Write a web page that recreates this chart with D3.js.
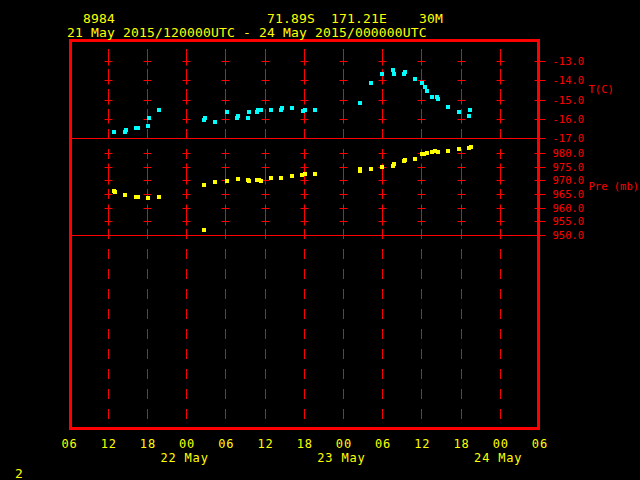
<!DOCTYPE html>
<html>
<head>
<meta charset="utf-8">
<script src="https://cdn.jsdelivr.net/npm/d3@7"></script>
<style>
  html, body { margin: 0; padding: 0; background: #000; }
  svg { display: block; }
  text { font-family: "DejaVu Sans Mono", monospace; }
</style>
</head>
<body>
<svg id="chart" width="640" height="480"></svg>
<script>
// ---------------- data ----------------
const stationId = "8984";
const latText = "71.89S";
const lonText = "171.21E";
const elevText = "30M";
const periodText = "21 May 2015/120000UTC - 24 May 2015/000000UTC";
const pageNumber = "2";

// hours after 2015-05-21 12:00 UTC
const tempHours = [0.9, 2.6, 2.7, 4.3, 4.6, 6.1, 6.3, 7.8, 14.7, 14.8, 16.4, 18.2, 19.7, 19.9,
  21.4, 21.6, 22.8, 22.9, 23.4, 24.9, 26.5, 26.6, 28.2, 29.8, 30.1, 31.7, 38.5, 40.2, 41.9,
  43.6, 43.7, 45.3, 45.4, 47.0, 48.0, 48.5, 48.8, 49.6, 50.3, 50.5, 52.0, 53.7, 55.2, 55.4];
const tempValues = [-16.66, -16.66, -16.55, -16.45, -16.45, -16.34, -15.92, -15.51, -16.03, -15.92,
  -16.13, -15.61, -15.92, -15.82, -15.92, -15.61, -15.61, -15.51, -15.51, -15.51, -15.51, -15.40,
  -15.40, -15.56, -15.51, -15.51, -15.14, -14.10, -13.63, -13.42, -13.63, -13.63, -13.52, -13.89,
  -14.10, -14.31, -14.51, -14.83, -14.83, -14.93, -15.35, -15.61, -15.82, -15.51];

const presHours = [0.9, 1.0, 2.6, 4.3, 4.6, 6.1, 7.8, 14.6, 14.7, 16.3, 18.2, 19.8, 21.4, 21.6,
  22.8, 23.1, 23.4, 24.9, 26.5, 28.2, 29.7, 30.1, 31.7, 38.5, 38.5, 40.2, 41.9, 43.6, 43.7,
  45.3, 45.4, 47.0, 48.0, 48.3, 48.8, 49.6, 50.0, 50.5, 52.0, 53.7, 55.2, 55.5];
const presValues = [966.3, 965.9, 964.8, 964.1, 964.1, 963.7, 964.1, 952.1, 968.5, 969.6, 969.9,
  970.6, 970.3, 969.9, 970.3, 970.3, 969.9, 971.0, 971.0, 971.7, 972.0, 972.5, 972.6, 974.4,
  973.7, 974.4, 975.1, 975.5, 976.2, 977.3, 977.7, 978.0, 979.9, 979.9, 980.2, 980.6, 980.8,
  980.6, 980.95, 981.7, 982.0, 982.4];

const tTicks = [-17, -16, -15, -14, -13];
const pTicks = [950, 955, 960, 965, 970, 975, 980];
const tLabel = "T(C)";
const pLabel = "Pre (mb)";

// ---------------- setup ----------------
const RED = "#ff0000", YEL = "#ffff00", CYAN = "#00ffff";
const svg = d3.select("#chart");
svg.append("rect").attr("width", 640).attr("height", 480).attr("fill", "#000");

const base = Date.UTC(2015, 4, 21, 12);
const toDate = h => new Date(base + h * 3600e3);

const x = d3.scaleUtc()
  .domain([new Date(Date.UTC(2015, 4, 21, 6)), new Date(Date.UTC(2015, 4, 24, 6))])
  .range([69, 539.4]);
const yT = d3.scaleLinear().domain([-17, -13]).range([138.4, 61.7]);
const yP = d3.scaleLinear().domain([950, 980]).range([235.6, 153.3]);

const frame = {l: 70.5, r: 538.5, t: 40.5, b: 428.5};
const crisp = v => Math.floor(v) + 0.5;

const hourTicks = x.ticks(d3.utcHour.every(6));
const innerTicks = hourTicks.filter((d, i) => i > 0 && i < hourTicks.length - 1);

// dashed vertical grid
svg.append("g").selectAll("line").data(innerTicks).join("line")
  .attr("x1", d => crisp(x(d))).attr("x2", d => crisp(x(d)))
  .attr("y1", 40).attr("y2", 428)
  .attr("stroke", RED).attr("stroke-width", 1)
  .attr("stroke-dasharray", "10,10").attr("stroke-dashoffset", 11);

// crosses
const crossData = [];
innerTicks.forEach(t => {
  tTicks.filter(v => v !== -17).forEach(v => crossData.push([crisp(x(t)), yT(v)]));
  pTicks.filter(v => v !== 950).forEach(v => crossData.push([crisp(x(t)), yP(v)]));
});
const cg = svg.append("g").attr("stroke", RED).attr("stroke-width", 1);
crossData.forEach(([cx, cy]) => {
  const yy = crisp(cy);
  cg.append("line").attr("x1", cx - 4).attr("x2", cx + 4).attr("y1", yy).attr("y2", yy);
  cg.append("line").attr("x1", cx).attr("x2", cx).attr("y1", yy - 4).attr("y2", yy + 4);
});

// panel separators
[crisp(yT(-17)), crisp(yP(950))].forEach(yy => {
  svg.append("line").attr("x1", frame.l).attr("x2", frame.r).attr("y1", yy).attr("y2", yy)
    .attr("stroke", RED).attr("stroke-width", 1);
});

// frame
svg.append("rect").attr("x", frame.l).attr("y", frame.t)
  .attr("width", frame.r - frame.l).attr("height", frame.b - frame.t)
  .attr("fill", "none").attr("stroke", RED).attr("stroke-width", 3);

// right axes
const fmt = d3.formatLocale({decimal: ".", thousands: ",", grouping: [3], currency: ["", ""], minus: "-"}).format(".1f");
function rightAxis(scale, ticks) {
  const g = svg.append("g").attr("transform", `translate(${frame.r},0)`)
    .call(d3.axisRight(scale).tickValues(ticks).tickFormat(fmt).tickSize(7).tickPadding(7));
  g.select(".domain").remove();
  g.selectAll(".tick").attr("transform", d => `translate(0,${crisp(scale(d))})`);
  g.selectAll(".tick line").attr("x1", -4).attr("stroke", RED);
  g.selectAll(".tick text").attr("fill", RED).attr("font-size", "10.5px")
    .attr("font-family", "DejaVu Sans Mono").attr("x", 14).attr("dy", "0.36em");
  return g;
}
rightAxis(yT, tTicks);
rightAxis(yP, pTicks);

svg.append("text").attr("x", 588.5).attr("y", 92.5).attr("fill", RED)
  .attr("font-size", "10.5px").text(tLabel);
svg.append("text").attr("x", 588.5).attr("y", 189.5).attr("fill", RED)
  .attr("font-size", "10.5px").style("white-space", "pre").text(pLabel);

// bottom axis labels
const bx = svg.append("g").attr("transform", "translate(0,436)")
  .call(d3.axisBottom(x).tickValues(hourTicks).tickFormat(d3.utcFormat("%H")).tickSize(0).tickPadding(0));
bx.select(".domain").remove();
bx.selectAll(".tick text").attr("fill", YEL).attr("font-size", "12px")
  .attr("font-family", "DejaVu Sans Mono").attr("letter-spacing", "0.8px")
  .attr("y", 12).attr("dy", 0);

const dayTicks = x.ticks(d3.utcDay.every(1)).filter(d => d > x.domain()[0]);
svg.append("g").selectAll("text").data(dayTicks).join("text")
  .attr("x", d => x(d) - 2).attr("y", 461.5)
  .attr("text-anchor", "middle").attr("fill", YEL).attr("font-size", "12px")
  .attr("letter-spacing", "0.8px").text(d3.utcFormat("%d %b"));

// header
const x0 = 67, adv = 8;
const hdr = svg.append("g").attr("fill", YEL).attr("font-size", "13px").attr("letter-spacing", "0.17px");
[[stationId, 2], [latText, 25], [lonText, 33], [elevText, 44]].forEach(([s, c]) => {
  hdr.append("text").attr("x", x0 + adv * c).attr("y", 23).text(s);
});
hdr.append("text").attr("x", x0).attr("y", 37).style("white-space", "pre").text(periodText);

svg.append("text").attr("x", 15).attr("y", 478).attr("fill", YEL).attr("font-size", "13px").text(pageNumber);

// data marks
const S = 4;
svg.append("g").selectAll("rect").data(tempHours.map((h, i) => [h, tempValues[i]])).join("rect")
  .attr("x", d => Math.round(x(toDate(d[0]))) - S / 2)
  .attr("y", d => Math.round(yT(d[1])) - S / 2)
  .attr("width", S).attr("height", S).attr("fill", CYAN);
svg.append("g").selectAll("rect").data(presHours.map((h, i) => [h, presValues[i]])).join("rect")
  .attr("x", d => Math.round(x(toDate(d[0]))) - S / 2)
  .attr("y", d => Math.round(yP(d[1])) - S / 2)
  .attr("width", S).attr("height", S).attr("fill", YEL);
</script>
</body>
</html>
